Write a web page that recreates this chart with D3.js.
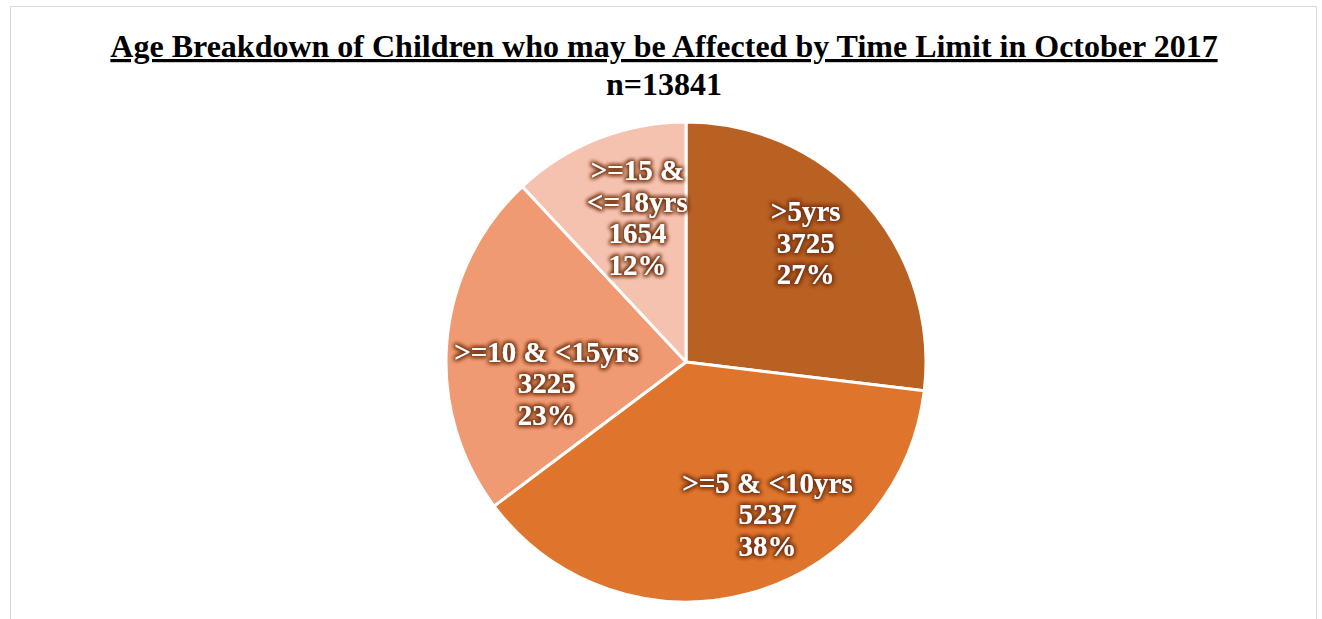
<!DOCTYPE html>
<html>
<head>
<meta charset="utf-8">
<script src="https://cdn.jsdelivr.net/npm/d3@7"></script>
<style>
  body { margin: 0; background: #fff; }
  svg { display: block; }
</style>
</head>
<body>
<script>
const categories = [">5yrs", ">=5 & <10yrs", ">=10 & <15yrs", ">=15 & <=18yrs"];
const labelLines = [[">5yrs"], [">=5 & <10yrs"], [">=10 & <15yrs"], [">=15 &", "<=18yrs"]];
const counts = [3725, 5237, 3225, 1654];
const colors = ["#B96023", "#DF752D", "#EF9A72", "#F5C2B0"];
const titleText = "Age Breakdown of Children who may be Affected by Time Limit in October 2017";
const subtitleText = "n=13841";

// label placement tweaks (Excel best-fit style), relative to the arc centroid
const labelNudge = [[-6, -8], [38, -10], [28, 36], [13, 12]];

const W = 1322, H = 619;
const cx = 686, cy = 362, R = 240;
const total = d3.sum(counts);
const serif = "'Liberation Serif', 'Times New Roman', serif";

const svg = d3.select("body").append("svg").attr("width", W).attr("height", H);

// frame
svg.append("rect")
    .attr("x", 10.5).attr("y", 6.5).attr("width", 1306).attr("height", 700)
    .attr("fill", "none").attr("stroke", "#d9d9d9").attr("stroke-width", 1);

// glow filter for labels
const defs = svg.append("defs");
const f = defs.append("filter").attr("id", "glow")
    .attr("x", "-20%").attr("y", "-40%").attr("width", "140%").attr("height", "180%");
f.append("feMorphology").attr("in", "SourceAlpha").attr("operator", "dilate").attr("radius", 1).attr("result", "d");
f.append("feGaussianBlur").attr("in", "d").attr("stdDeviation", 2.2).attr("result", "b");
f.append("feFlood").attr("flood-color", "#7A3712").attr("result", "c");
f.append("feComposite").attr("in", "c").attr("in2", "b").attr("operator", "in").attr("result", "s");
const m = f.append("feMerge");
m.append("feMergeNode").attr("in", "s");
m.append("feMergeNode").attr("in", "s");
m.append("feMergeNode").attr("in", "SourceGraphic");

// titles
svg.append("text")
    .attr("x", 664).attr("y", 57)
    .attr("text-anchor", "middle")
    .attr("font-family", serif)
    .attr("font-weight", "bold").attr("font-size", 32)
    .attr("text-decoration", "underline")
    .text(titleText);
svg.append("text")
    .attr("x", 664).attr("y", 95)
    .attr("text-anchor", "middle")
    .attr("font-family", serif)
    .attr("font-weight", "bold").attr("font-size", 32)
    .text(subtitleText);

const data = categories.map((c, i) => ({ name: c, value: counts[i], lines: labelLines[i], color: colors[i], nudge: labelNudge[i] }));
const pie = d3.pie().value(d => d.value).sort(null);
const arcs = pie(data);
const arc = d3.arc().innerRadius(0).outerRadius(R);
const labelArc = d3.arc().innerRadius(R * 0.7).outerRadius(R * 0.7);

const g = svg.append("g").attr("transform", `translate(${cx},${cy})`);
g.selectAll("path").data(arcs).enter().append("path")
    .attr("d", arc)
    .attr("fill", d => d.data.color)
    .attr("stroke", "#fff").attr("stroke-width", 3).attr("stroke-linejoin", "round");

const lh = 31.5;
g.selectAll("text.lbl").data(arcs).enter().append("text")
    .attr("class", "lbl")
    .attr("text-anchor", "middle")
    .attr("font-family", serif)
    .attr("font-weight", "bold").attr("font-size", 29)
    .attr("fill", "#fff")
    .attr("filter", "url(#glow)")
    .each(function (d) {
        const c = labelArc.centroid(d);
        const x = c[0] + d.data.nudge[0], y = c[1] + d.data.nudge[1];
        const lines = d.data.lines.concat([String(d.data.value), Math.round(d.data.value / total * 100) + "%"]);
        const y0 = y - (lines.length - 1) * lh / 2 + 10;
        const t = d3.select(this);
        lines.forEach((s, k) => {
            t.append("tspan").attr("x", x).attr("y", y0 + k * lh).text(s);
        });
    });
</script>
</body>
</html>
